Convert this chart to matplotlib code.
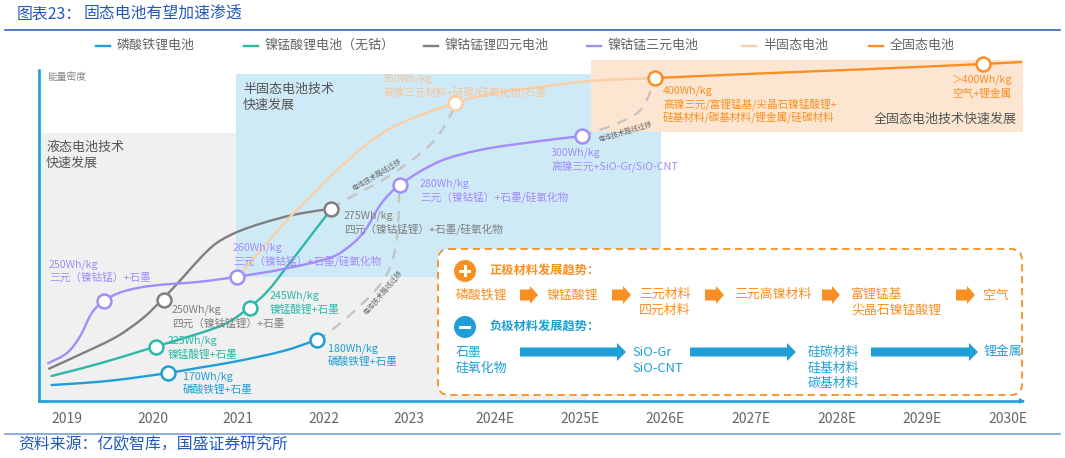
#!/usr/bin/env python3
"""Solid-state battery roadmap chart: energy density curves by year."""

import matplotlib
matplotlib.use("Agg")
import matplotlib.pyplot as plt
import numpy as np
from matplotlib.patches import Circle, FancyBboxPatch, PathPatch, Rectangle
from matplotlib.path import Path

plt.rcParams["font.family"] = ["Noto Sans CJK SC", "DejaVu Sans"]

W, H = 1065, 458
PX_PER_YEAR = 85.5

# ---- palette ----
BLUE = "#1F9FD5"
TEAL = "#2DB8AA"
GRAY = "#7F7F7F"
PURPLE = "#A48CFB"
PEACH = "#FBCFA4"
PEACH_TEXT = "#F9C595"
ORANGE = "#F98F22"
DASH = "#C4C4C4"
TEXT = "#555555"

# ---- data: x in years, y is relative height above the axis (no real scale) ----
YEARS = list(range(2019, 2031))
YEAR_LABELS = ["2019", "2020", "2021", "2022", "2023", "2024E", "2025E",
               "2026E", "2027E", "2028E", "2029E", "2030E"]
SERIES_NAMES = ["磷酸铁锂电池", "镍锰酸锂电池\uff08无钴\uff09", "镍钴锰锂四元电池",
                "镍钴锰三元电池", "半固态电池", "全固态电池"]

LFP_X = [2018.82, 2019.19, 2019.58, 2020.18, 2020.56, 2020.94, 2021.53, 2021.92]
LFP_Y = [16, 18, 21, 28, 33.5, 39, 50, 61]
LFP_NODE_X = [2020.18, 2021.92]
LFP_NODE_Y = [28, 61]

LNMO_X = [2018.82, 2019.39, 2020.03, 2020.56, 2020.87, 2021.13, 2021.34, 2021.57,
          2021.92, 2022.02, 2022.09]
LNMO_Y = [25, 37.7, 54.3, 68, 78, 93.3, 109.3, 134, 173, 184, 192.5]
LNMO_NODE_X = [2020.04, 2021.14]
LNMO_NODE_Y = [54, 93]

NCMA_X = [2018.79, 2019.19, 2019.58, 2019.89, 2020.12, 2020.36, 2020.56, 2020.75,
          2020.99, 2021.29, 2021.64, 2022.09]
NCMA_Y = [32.3, 48, 64.3, 83, 102, 124, 143, 158, 169, 178, 186, 192.5]
NCMA_NODE_X = [2020.13, 2022.09]
NCMA_NODE_Y = [101, 192.5]

NCM_X = [2018.78, 2019.00, 2019.15, 2019.29, 2019.43, 2019.65, 2019.97, 2020.56,
         2020.99, 2021.53, 2022.11, 2022.35, 2022.49, 2022.68, 2022.89, 2023.35,
         2023.83, 2024.42, 2025.02]
NCM_Y = [37.7, 48, 64.3, 88, 100, 109.3, 115, 119.3, 124.3, 132, 144.3, 158, 171,
         198, 216, 239.3, 251, 258.7, 265]
NCM_NODE_X = [2019.43, 2020.99, 2022.89, 2025.02]
NCM_NODE_Y = [100, 124, 216, 265]

SEMI_X = [2020.99, 2021.06, 2021.26, 2021.46, 2021.64, 2021.92, 2022.17, 2022.75,
          2023.54, 2023.95, 2024.42, 2025.12, 2025.88]
SEMI_Y = [124, 130, 150, 170, 187, 211, 232, 271, 298, 307, 313, 320, 323]
SEMI_NODE_X = [2023.54]
SEMI_NODE_Y = [298]

SOLID_X = [2025.88, 2027.1, 2028.4, 2029.71, 2030.17]
SOLID_Y = [323, 327.5, 332, 337, 339]
SOLID_NODE_X = [2025.88, 2029.71]
SOLID_NODE_Y = [323, 337]

# dashed "route migration" links between the curves
MOVE1_X = [2021.92, 2022.02, 2022.31, 2022.63, 2022.78, 2022.86, 2022.89]
MOVE1_Y = [61, 66, 86, 113, 134, 164, 216]
MOVE2_X = [2022.09, 2022.32, 2022.75, 2023.27, 2023.50, 2023.54]
MOVE2_Y = [192.5, 204, 224, 258, 288, 298]
MOVE3_X = [2025.02, 2025.12, 2025.39, 2025.67, 2025.78, 2025.88]
MOVE3_Y = [265, 268, 276, 288, 301, 323]

# ---- layout ----
fig = plt.figure(figsize=(W / 100, H / 100), dpi=100)


def pixel_axes(zorder):
    a = fig.add_axes([0, 0, 1, 1], zorder=zorder)
    a.set_xlim(0, W)
    a.set_ylim(H, 0)
    a.axis("off")
    return a


def smooth_path(xs, ys):
    """Bezier path through the read points, handles along the neighbour chord."""
    pts = np.column_stack([xs, ys]).astype(float)
    scaled = pts * [PX_PER_YEAR, 1]
    tan = np.zeros_like(scaled)
    tan[1:-1] = scaled[2:] - scaled[:-2]
    tan[0] = scaled[1] - scaled[0]
    tan[-1] = scaled[-1] - scaled[-2]
    tan /= np.linalg.norm(tan, axis=1, keepdims=True)
    verts, codes = [pts[0]], [Path.MOVETO]
    for i in range(len(pts) - 1):
        d = np.linalg.norm(scaled[i + 1] - scaled[i]) / 3
        verts += [(scaled[i] + tan[i] * d) / [PX_PER_YEAR, 1],
                  (scaled[i + 1] - tan[i + 1] * d) / [PX_PER_YEAR, 1], pts[i + 1]]
        codes += [Path.CURVE4] * 3
    return Path(verts, codes)


bg = pixel_axes(0)
top = pixel_axes(2)

# background bands
bg.add_patch(Rectangle((39, 133), 548, 268, fc="#F0F0F0", ec="none"))
bg.add_patch(Rectangle((236, 74), 425, 203, fc="#CFEAF7", ec="none"))
bg.add_patch(Rectangle((591, 60), 432, 72, fc="#FCE6D2", ec="none"))
bg.add_patch(FancyBboxPatch((438, 249), 584, 146, boxstyle="round,pad=0,rounding_size=11",
                            fc="white", ec=ORANGE, lw=1.3, ls=(0, (4, 2.6))))

# rules, title and source
bg.plot([5, 1060], [30, 30], color="#2259B8", lw=1.1)
bg.plot([5, 1060], [434, 434], color="#6F98CC", lw=1.1)
top.text(17, 14, "图表23\uff1a", color="#2259B8", fontsize=11.4, va="center")
top.text(84, 14, "固态电池有望加速渗透", color="#2259B8", fontsize=11.4, va="center")
top.text(18, 445, "资料来源\uff1a亿欧智库\uff0c国盛证券研究所", color="#2259B8",
         fontsize=11.4, va="center")

# ---- main axes ----
ax = fig.add_axes([39 / W, (H - 401) / H, (1022 - 39) / W, 351 / H], zorder=1)
ax.patch.set_alpha(0)
ax.set_xlim(2019 + (39 - 67) / PX_PER_YEAR, 2019 + (1022 - 67) / PX_PER_YEAR)
ax.set_ylim(0, 351)
for side in ("top", "right"):
    ax.spines[side].set_visible(False)
for side in ("left", "bottom"):
    ax.spines[side].set_color(BLUE)
    ax.spines[side].set_linewidth(1.9)
ax.spines["left"].set_bounds(0, 331)
ax.plot(1, 0, ">", color=BLUE, ms=5, mew=0, clip_on=False, transform=ax.get_yaxis_transform())
ax.plot(0, 331, "^", color=BLUE, ms=5, mew=0, clip_on=False, transform=ax.get_xaxis_transform())
ax.set_yticks([])
ax.set_xticks(YEARS)
ax.set_xticklabels(YEAR_LABELS, fontsize=10, color="#666666")
ax.tick_params(axis="x", length=0, pad=8)

for xs, ys in ((MOVE1_X, MOVE1_Y), (MOVE2_X, MOVE2_Y), (MOVE3_X, MOVE3_Y)):
    ax.add_patch(PathPatch(smooth_path(xs, ys), fc="none", ec=DASH, lw=1.7,
                           ls=(0, (4.5, 3.5)), zorder=2))

CURVES = [(NCMA_X, NCMA_Y, GRAY), (SEMI_X, SEMI_Y, PEACH), (LNMO_X, LNMO_Y, TEAL),
          (LFP_X, LFP_Y, BLUE), (NCM_X, NCM_Y, PURPLE), (SOLID_X, SOLID_Y, ORANGE)]
for xs, ys, c in CURVES:
    ax.add_patch(PathPatch(smooth_path(xs, ys), fc="none", ec=c, lw=1.7, capstyle="round",
                           zorder=3))

NODES = [(NCMA_NODE_X, NCMA_NODE_Y, GRAY), (SEMI_NODE_X, SEMI_NODE_Y, PEACH),
         (LNMO_NODE_X, LNMO_NODE_Y, TEAL), (LFP_NODE_X, LFP_NODE_Y, BLUE),
         (NCM_NODE_X, NCM_NODE_Y, PURPLE), (SOLID_NODE_X, SOLID_NODE_Y, ORANGE)]
for xs, ys, c in NODES:
    ax.plot(xs, ys, "o", mfc="white", mec=c, ms=10, mew=1.8, zorder=4, clip_on=False)

# ---- legend ----
LEGEND_X = [96, 244, 424, 587, 742, 869]
LEGEND_C = [BLUE, TEAL, GRAY, PURPLE, PEACH, ORANGE]
for x, name, c in zip(LEGEND_X, SERIES_NAMES, LEGEND_C):
    top.plot([x, x + 14], [46, 46], color=c, lw=1.7)
    top.text(x + 21, 45.5, name, color="#666666", fontsize=9.4, va="center")


def note(x, y, lines, color, size=7.7, step=13):
    for i, s in enumerate(lines):
        top.text(x, y + i * step, s, color=color, fontsize=size, va="center")


# ---- curve labels ----
note(49, 265, ["250Wh/kg", "三元\uff08镍钴锰\uff09+石墨"], PURPLE)
note(233, 248, ["260Wh/kg", "三元\uff08镍钴锰\uff09+石墨/硅氧化物"], PURPLE)
note(420, 184, ["280Wh/kg", "三元\uff08镍钴锰\uff09+石墨/硅氧化物"], PURPLE)
note(551, 153, ["300Wh/kg", "高镍三元+SiO-Gr/SiO-CNT"], PURPLE)
note(172, 310, ["250Wh/kg", "四元\uff08镍钴锰锂\uff09+石墨"], GRAY)
note(344, 216, ["275Wh/kg", "四元\uff08镍钴锰锂\uff09+石墨/硅氧化物"], GRAY)
note(168, 341, ["225Wh/kg", "镍锰酸锂+石墨"], TEAL)
note(270, 296, ["245Wh/kg", "镍锰酸锂+石墨"], TEAL)
note(183, 377, ["170Wh/kg", "磷酸铁锂+石墨"], BLUE)
note(328, 349, ["180Wh/kg", "磷酸铁锂+石墨"], BLUE)
note(383, 79, ["350Wh/kg", "高镍三元材料+硅碳/硅氧化物/石墨"], PEACH_TEXT)
note(663, 91, ["400Wh/kg", "高镍三元/富锂锰基/尖晶石镍锰酸锂+",
               "硅基材料/碳基材料/锂金属/硅碳材料"], ORANGE)
note(952, 80, ["\uff1e400Wh/kg", "空气+锂金属"], ORANGE)

# ---- band captions ----
note(46, 147, ["液态电池技术", "快速发展"], TEXT, size=9.4, step=16)
note(243, 89, ["半固态电池技术", "快速发展"], TEXT, size=9.4, step=16)
top.text(1017, 119, "全固态电池技术快速发展", color=TEXT, fontsize=9.4, va="center", ha="right")
top.text(47, 77, "能量密度", color="#888888", fontsize=7, va="center")

for x, y, rot in ((377, 175, 31), (383, 293, 50), (625, 132, 17)):
    top.text(x, y, "电池技术路线迁移", color="#666666", fontsize=5, rotation=rot,
             ha="center", va="center", rotation_mode="anchor")

# ---- inset: material trends ----
top.add_patch(Circle((465, 271), 11, fc=ORANGE, ec="none"))
top.add_patch(Rectangle((459, 269.5), 12, 3, fc="white", ec="none"))
top.add_patch(Rectangle((463.5, 265), 3, 12, fc="white", ec="none"))
top.add_patch(Circle((465, 327), 11, fc=BLUE, ec="none"))
top.add_patch(Rectangle((459, 325.5), 12, 3, fc="white", ec="none"))
top.text(490, 271, "正极材料发展趋势\uff1a", color=ORANGE, fontsize=8.8, fontweight="bold", va="center")
top.text(490, 327, "负极材料发展趋势\uff1a", color=BLUE, fontsize=8.8, fontweight="bold", va="center")

note(456, 295, ["磷酸铁锂"], ORANGE, size=9.3)
note(547, 295, ["镍锰酸锂"], ORANGE, size=9.3)
note(639, 294, ["三元材料", "四元材料"], ORANGE, size=9.3, step=16)
note(734, 294, ["三元高镍材料"], ORANGE, size=9.3)
note(851, 294, ["富锂锰基", "尖晶石镍锰酸锂"], ORANGE, size=9.3, step=16)
note(983, 295, ["空气"], ORANGE, size=9.3)
note(456, 352.5, ["石墨", "硅氧化物"], BLUE, size=9.3, step=15.5)
note(632, 352.5, ["SiO-Gr", "SiO-CNT"], BLUE, size=9.3, step=15.5)
note(808, 352.5, ["硅碳材料", "硅基材料", "碳基材料"], BLUE, size=9.3, step=15.5)
note(984, 352.5, ["锂金属"], BLUE, size=9.3)

for x0, x1 in ((520, 538), (612, 631), (705, 724), (822, 840), (956, 975)):
    top.arrow(x0, 295, x1 - x0 - 8, 0, width=11, head_width=18, head_length=8,
              length_includes_head=False, fc=ORANGE, ec="none")
for x0, x1 in ((520, 626), (690, 796), (871, 978)):
    top.arrow(x0, 352, x1 - x0 - 9, 0, width=9, head_width=18, head_length=9,
              length_includes_head=False, fc=BLUE, ec="none")

fig.savefig("out.png", dpi=100)
